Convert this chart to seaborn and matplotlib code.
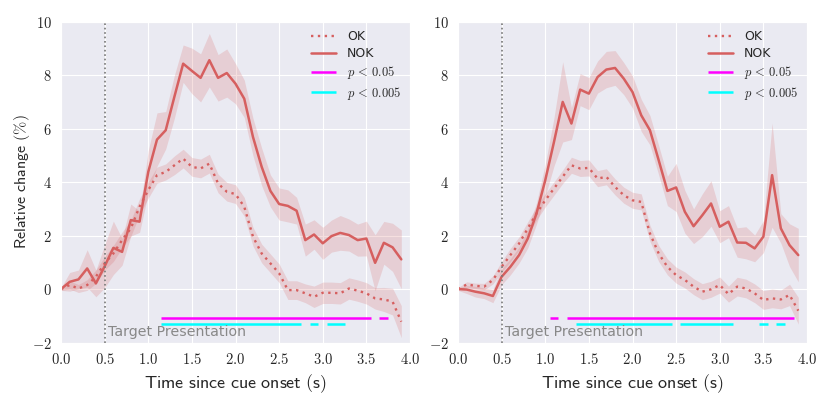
import numpy as np
import pandas as pd
import matplotlib
matplotlib.use("Agg")
import matplotlib.pyplot as plt
import seaborn as sns
from matplotlib.ticker import FuncFormatter

# ---------------- data ----------------
time = [round(0.1 * i, 1) for i in range(40)]

left_ok = [0.0, 0.15, 0.02, 0.15, 0.46, 0.96, 1.33, 1.83, 2.27, 3.08,
           3.7, 4.26, 4.38, 4.63, 4.88, 4.57, 4.51, 4.69, 3.95, 3.64,
           3.55, 3.08, 1.96, 1.33, 0.96, 0.59, -0.04, -0.04, -0.16, -0.29,
           -0.14, -0.14, -0.16, 0.02, -0.06, -0.16, -0.35, -0.39, -0.47, -1.22]
left_ok_err = [0.05, 0.15, 0.15, 0.2, 0.25, 0.25, 0.3, 0.3, 0.3, 0.3,
               0.3, 0.3, 0.3, 0.35, 0.35, 0.35, 0.35, 0.35, 0.35, 0.35,
               0.35, 0.35, 0.35, 0.35, 0.35, 0.35, 0.35, 0.35, 0.35, 0.4,
               0.4, 0.4, 0.4, 0.4, 0.4, 0.4, 0.4, 0.45, 0.5, 0.6]
left_nok = [0.0, 0.27, 0.36, 0.77, 0.21, 0.85, 1.54, 1.39, 2.58, 2.52,
            4.38, 5.59, 5.94, 7.2, 8.43, 8.16, 7.9, 8.56, 7.9, 8.08,
            7.68, 7.12, 5.69, 4.57, 3.67, 3.18, 3.11, 2.93, 1.83, 2.04,
            1.71, 1.98, 2.1, 2.02, 1.83, 1.89, 0.98, 1.73, 1.56, 1.11]
left_nok_err = [0.05, 0.35, 0.35, 0.7, 0.5, 0.8, 1.0, 0.5, 0.6, 0.4,
                0.8, 1.0, 0.7, 0.8, 0.7, 0.85, 0.9, 1.0, 0.87, 0.9,
                0.75, 0.7, 0.7, 0.7, 0.6, 0.6, 0.6, 0.5, 0.6, 0.55,
                0.6, 0.6, 0.65, 0.6, 0.6, 0.65, 1.05, 0.8, 0.9, 1.1]

right_ok = [0.0, 0.17, 0.12, 0.09, 0.34, 0.83, 1.27, 1.7, 2.27, 2.83,
            3.32, 3.76, 4.2, 4.63, 4.51, 4.53, 4.13, 4.2, 3.82, 3.51,
            3.32, 3.26, 2.08, 1.33, 0.83, 0.52, 0.34, 0.09, -0.1, -0.01,
            0.15, -0.19, 0.09, 0.02, -0.16, -0.41, -0.35, -0.39, -0.22, -0.81]
right_ok_err = [0.05, 0.1, 0.1, 0.12, 0.15, 0.2, 0.25, 0.25, 0.25, 0.25,
                0.25, 0.25, 0.25, 0.3, 0.3, 0.3, 0.3, 0.3, 0.3, 0.3,
                0.3, 0.3, 0.3, 0.3, 0.3, 0.3, 0.3, 0.3, 0.3, 0.3,
                0.3, 0.3, 0.35, 0.35, 0.35, 0.35, 0.35, 0.35, 0.4, 0.5]
right_nok = [0.0, -0.02, -0.1, -0.16, -0.26, 0.46, 0.83, 1.27, 1.89, 2.83,
             4.07, 5.5, 7.0, 6.19, 7.46, 7.31, 7.93, 8.21, 8.27, 7.87,
             7.37, 6.5, 5.94, 4.82, 3.67, 3.8, 2.89, 2.35, 2.76, 3.2,
             2.33, 2.52, 1.74, 1.73, 1.52, 1.96, 4.26, 2.27, 1.64, 1.27]
right_nok_err = [0.05, 0.15, 0.2, 0.2, 0.25, 0.3, 0.3, 0.3, 0.35, 0.4,
                 0.6, 0.9, 1.5, 0.6, 0.6, 0.6, 0.6, 0.68, 0.65, 0.6,
                 0.6, 0.6, 0.55, 0.55, 0.55, 0.9, 0.8, 0.65, 0.8, 0.85,
                 0.6, 0.6, 0.55, 0.6, 0.5, 0.6, 1.95, 0.55, 0.8, 1.0]

# significance segments (start, end in seconds)
left_p05_start = [1.15, 3.65]
left_p05_end = [3.55, 3.75]
left_p005_start = [1.15, 2.85, 3.05]
left_p005_end = [2.75, 2.95, 3.25]
right_p05_start = [1.05, 1.25]
right_p05_end = [1.15, 3.85]
right_p005_start = [1.35, 2.55, 3.45, 3.65]
right_p005_end = [2.45, 3.15, 3.55, 3.75]

x_ticks = [0.0, 0.5, 1.0, 1.5, 2.0, 2.5, 3.0, 3.5, 4.0]
y_ticks = [-2, 0, 2, 4, 6, 8, 10]

# ---------------- style ----------------
sns.set_style("darkgrid")
plt.rcParams['font.family'] = ['DejaVu Sans']
plt.rcParams['mathtext.fontset'] = 'cm'

RED = "#d65f5f"

fig = plt.figure(figsize=(8.3, 3.99), dpi=100)
ax1 = fig.add_axes([0.0735, 0.1416, 0.4205, 0.804])
ax2 = fig.add_axes([0.5518, 0.1416, 0.4205, 0.804])

panels = [
    (ax1, left_ok, left_ok_err, left_nok, left_nok_err,
     left_p05_start, left_p05_end, left_p005_start, left_p005_end),
    (ax2, right_ok, right_ok_err, right_nok, right_nok_err,
     right_p05_start, right_p05_end, right_p005_start, right_p005_end),
]

for i, (ax, ok, oke, nok, noke, p05s, p05e, p005s, p005e) in enumerate(panels):
    df = pd.DataFrame({"time": time, "OK": ok, "NOK": nok})
    ok_a = np.array(ok); oke_a = np.array(oke)
    nok_a = np.array(nok); noke_a = np.array(noke)
    ax.fill_between(time, ok_a - oke_a, ok_a + oke_a, color=RED, alpha=0.2, lw=0)
    ax.fill_between(time, nok_a - noke_a, nok_a + noke_a, color=RED, alpha=0.2, lw=0)
    sns.lineplot(data=df, x="time", y="OK", ax=ax, color=RED, lw=1.7,
                 linestyle=(0, (1, 1.9)), label="OK")
    sns.lineplot(data=df, x="time", y="NOK", ax=ax, color=RED, lw=1.8,
                 label="NOK")
    ax.hlines([-1.07] * len(p05s), p05s, p05e, color="magenta", lw=1.8,
              label=r"$p\,<\,0.05$")
    ax.hlines([-1.3] * len(p005s), p005s, p005e, color="cyan", lw=1.8,
              label=r"$p\,<\,0.005$")
    ax.axvline(0.5, color="#777777", ls=":", lw=1.2)
    ax.text(0.54, -1.6, "Target Presentation", color="#888888", fontsize=10.2,
            va="center", ha="left")
    ax.set_xlim(0, 4)
    ax.set_ylim(-2, 10)
    ax.set_xticks(x_ticks)
    ax.set_yticks(y_ticks)
    ax.xaxis.set_major_formatter(FuncFormatter(lambda v, p: r"$%.1f$" % v))
    ax.yaxis.set_major_formatter(FuncFormatter(lambda v, p: r"$%d$" % v))
    ax.tick_params(labelsize=10.5, pad=3)
    ax.set_xlabel(r"$\mathsf{Time\ since\ cue\ onset\ (s)}$", fontsize=13)
    if i == 0:
        ax.set_ylabel(r"$\mathsf{Relative\ change\ (\%)}$", fontsize=11.5,
                      labelpad=0)
    else:
        ax.set_ylabel("")
    leg = ax.legend(loc="upper right", frameon=False, fontsize=9,
                    handlelength=2.0, handletextpad=0.9,
                    borderaxespad=0.3, labelspacing=0.3)

fig.savefig("out.png", dpi=100)
